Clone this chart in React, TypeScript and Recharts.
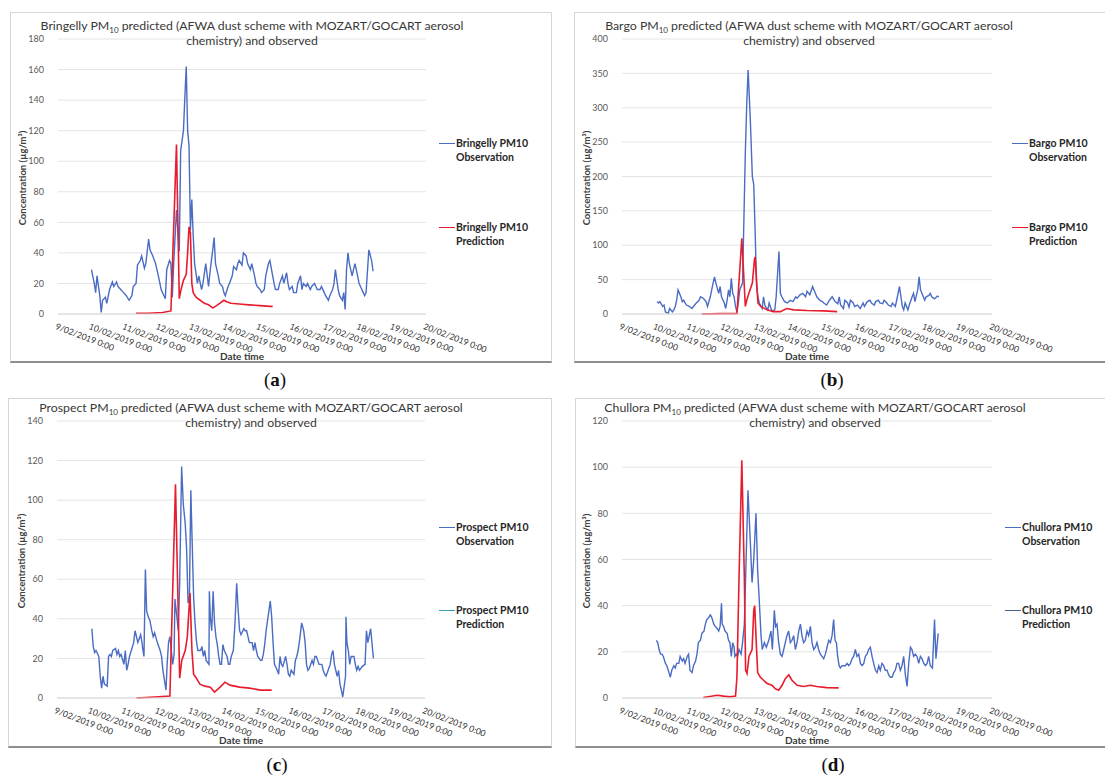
import React from 'react';
import { LineChart, Line, XAxis, YAxis, CartesianGrid } from 'recharts';

// x values are hours since 9/02/2019 0:00
const dayTicks = [0, 24, 48, 72, 96, 120, 144, 168, 192, 216, 240, 264];
const dayLabels = [
  '9/02/2019 0:00', '10/02/2019 0:00', '11/02/2019 0:00', '12/02/2019 0:00',
  '13/02/2019 0:00', '14/02/2019 0:00', '15/02/2019 0:00', '16/02/2019 0:00',
  '17/02/2019 0:00', '18/02/2019 0:00', '19/02/2019 0:00', '20/02/2019 0:00',
];

// [hour, µg/m³]
const bringellyObs = [
  [24, 29], [26, 20], [27, 14], [28, 25], [30, 12], [31, 1], [32, 9], [34, 11], [35, 7], [37, 16],
  [39, 21], [40, 18], [42, 21], [43, 18], [45, 16], [47, 14], [49, 12], [51, 9], [53, 12], [54, 18],
  [56, 20], [57, 32], [59, 35], [60, 38], [62, 30], [63, 33], [65, 49], [66, 42], [68, 38], [70, 33],
  [72, 25], [74, 16], [76, 12], [77, 10], [78, 29], [80, 35], [81, 33], [82, 11], [83, 33], [85, 68],
  [86, 55], [87, 41], [88, 107], [90, 120], [91, 142], [92, 162], [93, 120], [94, 110], [95, 55], [96, 75],
  [97, 51], [98, 33], [100, 20], [101, 25], [103, 16], [104, 20], [106, 33], [108, 18], [109, 27], [111, 42],
  [112, 50], [113, 33], [115, 25], [116, 20], [118, 18], [119, 14], [120, 12], [122, 18], [123, 20], [125, 25],
  [126, 31], [128, 29], [129, 33], [130, 35], [132, 32], [133, 40], [135, 38], [136, 33], [138, 29], [139, 33],
  [141, 25], [142, 20], [143, 18], [145, 16], [146, 14], [148, 16], [149, 25], [151, 33], [152, 35], [154, 25],
  [155, 20], [156, 16], [158, 16], [159, 20], [161, 25], [162, 20], [164, 27], [165, 20], [166, 16], [168, 18],
  [169, 14], [171, 14], [172, 20], [174, 25], [175, 16], [176, 20], [178, 18], [179, 20], [181, 16], [182, 18],
  [184, 20], [185, 18], [186, 16], [188, 16], [189, 18], [191, 14], [192, 12], [194, 9], [195, 12], [197, 16],
  [198, 20], [199, 29], [201, 16], [202, 12], [204, 9], [205, 14], [206, 3], [207, 29], [208, 40], [209, 33],
  [211, 25], [212, 29], [213, 33], [214, 29], [216, 20], [217, 18], [219, 14], [220, 12], [221, 14], [223, 42],
  [225, 35], [226, 28],
];
const bringellyPred = [
  [56, 0.5], [65, 0.5], [75, 1], [81, 2], [85, 111], [87, 10], [88, 15], [90, 22], [92, 26], [93, 40],
  [94, 57], [95, 53], [96, 20], [97, 14], [99, 11], [102, 9], [105, 7], [108, 6], [111, 4], [113, 5],
  [116, 7], [119, 9], [121, 8], [124, 7], [130, 6.5], [137, 6], [145, 5.5], [152, 5], [154, 5],
];

const bargoObs = [
  [25, 18], [26, 16], [27, 18], [29, 11], [30, 13], [31, 3], [33, 1], [34, 8], [36, 3], [37, 6],
  [38, 11], [39, 20], [40, 35], [42, 25], [43, 18], [44, 20], [45, 16], [46, 13], [48, 11], [50, 8],
  [51, 11], [53, 16], [55, 20], [56, 25], [58, 23], [60, 18], [61, 11], [63, 25], [65, 45], [66, 54],
  [67, 45], [69, 30], [70, 40], [71, 25], [73, 16], [74, 8], [75, 20], [76, 35], [77, 25], [78, 52],
  [79, 30], [80, 25], [81, 11], [82, 3], [83, 16], [84, 35], [86, 45], [87, 140], [88, 235], [89, 305],
  [90, 355], [91.5, 285], [93, 200], [94, 188], [95, 120], [96, 40], [97, 25], [98, 16], [99, 12], [100, 8],
  [101, 25], [102, 12], [104, 6], [105, 16], [107, 4], [109, 6], [110, 25], [112, 91], [113, 30], [114, 25],
  [116, 18], [118, 16], [120, 20], [122, 18], [124, 25], [125, 23], [127, 28], [129, 30], [131, 25], [132, 33],
  [134, 28], [136, 40], [137, 35], [139, 25], [141, 20], [143, 18], [144, 16], [146, 13], [148, 20], [150, 25],
  [152, 18], [154, 15], [155, 25], [156, 13], [158, 8], [159, 20], [161, 16], [162, 10], [163, 20], [165, 16],
  [166, 11], [168, 13], [170, 8], [172, 16], [173, 11], [175, 18], [177, 20], [178, 16], [180, 13], [181, 18],
  [183, 20], [184, 16], [186, 15], [187, 20], [189, 16], [190, 13], [192, 11], [193, 16], [195, 11], [196, 20],
  [198, 40], [200, 11], [201, 6], [202, 16], [204, 6], [205, 13], [207, 25], [208, 30], [209, 18], [211, 35],
  [212, 54], [213, 35], [215, 25], [216, 20], [217, 25], [219, 27], [220, 30], [221, 25], [223, 22], [225, 26],
  [226, 25],
];
const bargoPred = [
  [57, 0], [70, 0.5], [82, 0.5], [85.5, 110], [88, 11], [89, 20], [90.5, 30], [93, 45], [94.5, 79], [95, 83],
  [97, 16], [99, 11], [103.5, 6], [108, 3.5], [113, 3.5], [117.5, 8], [122.5, 6], [132, 5], [144, 4.5], [153.5, 3.5],
];

const prospectObs = [
  [25, 35], [26, 26], [27, 23], [28, 24], [30, 21], [31, 11], [32, 5], [33, 11], [34, 7], [36, 6],
  [37, 21], [38, 22], [39, 21], [40, 24], [42, 25], [43, 22], [44, 24], [45, 21], [46, 22], [48, 17],
  [49, 24], [50, 14], [51, 17], [52, 21], [55, 28], [56, 34], [57, 31], [58, 28], [60, 32], [61, 28],
  [61.5, 25], [62.4, 21], [63.4, 65], [64.3, 44], [65.5, 41], [66.7, 39], [68, 34], [69, 31], [70, 33], [72, 28],
  [73, 26], [74, 24], [75, 21], [76, 14], [77.5, 7], [78.2, 4], [79, 17], [80, 28], [81, 31], [82, 24],
  [83, 17], [84, 22], [84.6, 50], [86, 41], [87, 34], [88, 58], [89.4, 117], [90.6, 98], [92, 88], [93, 75],
  [94, 48], [95, 51], [96, 105], [97, 78], [98, 51], [99, 38], [100, 29], [101, 24], [103, 24], [104, 26],
  [105, 21], [106, 24], [107, 19], [109, 17], [109.3, 54], [110, 41], [111, 34], [112, 54], [113, 38], [114, 31],
  [115, 27], [116, 21], [117, 17], [118, 17], [119, 27], [120, 24], [122, 21], [123, 17], [124, 17], [125, 21],
  [126.5, 24], [127.7, 38], [128.9, 58], [130, 44], [131, 34], [132, 32], [134, 35], [135, 34], [136, 34], [137, 31],
  [138, 28], [140, 28], [141, 24], [142, 28], [143, 24], [144, 21], [146, 19], [147, 19], [148, 22], [149, 27],
  [150, 34], [152, 44], [153, 49], [154, 41], [155, 28], [156, 17], [158, 14], [159, 12], [160, 21], [161, 17],
  [162, 16], [164, 21], [165, 17], [166, 12], [167, 11], [168, 14], [170, 12], [171, 19], [172, 21], [173, 24],
  [174, 29], [175.5, 38], [177, 34], [178, 28], [179, 17], [180, 14], [181, 15], [183, 19], [184, 17], [185, 21],
  [186, 21], [188, 17], [190, 17], [191, 14], [192, 12], [193, 11], [195, 15], [196, 17], [197, 22], [198, 24],
  [199, 17], [201, 11], [202, 14], [203, 7], [204, 4], [205, 0.5], [207, 11], [207.3, 41], [208, 28], [209, 24],
  [210, 17], [211, 21], [213, 21], [214, 17], [215, 14], [216, 16], [217, 14], [219, 16], [221, 17], [222, 34],
  [223, 28], [225, 35], [227, 20],
];
const prospectPred = [
  [57, 0], [70, 0.5], [81, 1], [85, 108], [88, 10], [89.5, 19], [92, 24], [93.5, 31], [95.4, 53], [96.8, 24],
  [98, 12], [100, 10], [102.5, 7], [106, 6], [110, 5.5], [113, 3], [117, 5.5], [120.5, 8], [124, 6.5], [131, 5.5],
  [138, 5], [146, 4], [154, 4],
];

const chulloraObs = [
  [24.5, 25], [25.5, 24], [26.5, 21], [27.5, 19], [28.5, 19], [29.5, 18], [31, 15], [32, 14], [33.5, 11], [34.5, 9],
  [35.5, 12], [37, 14], [38, 13], [39, 15], [40.5, 15], [41.5, 18], [43, 16], [44, 17], [45, 15], [46.5, 18],
  [47.5, 19], [48.5, 12], [50, 11], [51, 14], [52.5, 16], [53.5, 19], [54.5, 24], [56, 25], [57, 28], [58.5, 29],
  [59.5, 32], [60.5, 34], [62, 35], [63, 36], [64, 35], [65.5, 32], [66.5, 31], [68, 30], [69, 29], [70, 31],
  [71, 41], [71.5, 32], [72.5, 31], [73.5, 29], [75, 28], [76, 25], [77, 24], [78, 18], [79, 24], [80, 22],
  [80.5, 18], [81.5, 19], [82.5, 18], [83.5, 21], [85, 19], [86, 24], [87.3, 32], [89.9, 90], [91.6, 67], [92.8, 50],
  [94, 60], [95.6, 80], [96.8, 55], [97.8, 44], [99.2, 27], [100.1, 21], [101.6, 24], [103, 22], [104.7, 25], [106.3, 29],
  [107.3, 21], [108.7, 38], [109.6, 31], [110.6, 32], [111.8, 24], [113, 19], [114.2, 18], [115.4, 21], [116.5, 24], [117.7, 27],
  [118.9, 29], [120.1, 24], [121.3, 25], [122.5, 27], [123.7, 21], [124.9, 24], [126.1, 29], [127.3, 32], [128.4, 27], [129.6, 24],
  [130.8, 25], [132, 29], [133.2, 27], [134.4, 31], [135.6, 24], [136.8, 21], [138, 22], [139.1, 24], [140.3, 21], [141.5, 19],
  [142.7, 18], [143.9, 17], [145.1, 19], [146.3, 22], [147.5, 25], [148.7, 24], [149.9, 27], [151, 34], [152, 25], [153, 24],
  [153.9, 18], [154.9, 14], [155.8, 13], [157, 14], [158.2, 14], [159.4, 14], [160.6, 15], [161.8, 14], [163, 15], [164.1, 17],
  [165.3, 18], [166.5, 21], [167.7, 18], [168.9, 19], [170.1, 15], [171.3, 14], [172.5, 15], [173.6, 18], [174.8, 19], [176, 21],
  [177.2, 22], [178.4, 18], [179.6, 15], [180.8, 12], [182, 11], [183.2, 14], [184.3, 12], [185.5, 15], [186.7, 14], [187.9, 12],
  [189.1, 12], [190.3, 10], [191.5, 9], [192.7, 9], [193.9, 11], [195, 12], [196.2, 15], [197.4, 15], [198.6, 12], [199.8, 14],
  [201, 18], [202.2, 10], [203.4, 5], [204.6, 15], [205.8, 22], [206.9, 21], [208.1, 18], [209.3, 19], [210.5, 18], [211.7, 15],
  [212.9, 18], [214.1, 17], [215.3, 15], [216.5, 14], [217.7, 15], [218.8, 18], [220, 14], [221.5, 13], [223, 34], [224, 17],
  [225.6, 28],
];
const chulloraPred = [
  [58, 0.2], [68, 1.2], [72.5, 0.8], [77, 0.5], [81, 0.8], [82, 9], [83.5, 52], [85.5, 103], [87.3, 52], [88.2, 12],
  [89.2, 10.6], [90.6, 18], [92.8, 21], [94, 38], [94.7, 40], [95.8, 24], [96.8, 11], [98.7, 9], [101, 7.7], [103.5, 6.3],
  [107, 5.5], [109.4, 4], [111.8, 3.4], [114.2, 5.5], [116.5, 8.4], [119, 10], [121.3, 7.7], [125, 5.5], [129.6, 5], [134.4, 5.5],
  [139, 5], [146, 4.5], [154.6, 4.4],
];

const bringellyTicks = [0, 20, 40, 60, 80, 100, 120, 140, 160, 180];
const bargoTicks = [0, 50, 100, 150, 200, 250, 300, 350, 400];
const prospectTicks = [0, 20, 40, 60, 80, 100, 120, 140];
const chulloraTicks = [0, 20, 40, 60, 80, 100, 120];

const OBS_COLOR = '#4a6cc3';
const PRED_COLOR = '#e81c2c';
const FONT = 'Lato, "Open Sans", sans-serif';

const toPoints = (pairs: number[][]) => pairs.map(([h, v]) => ({ h, v }));

const DateTick = (props: any) => {
  const { x, y, payload } = props;
  const i = dayTicks.indexOf(payload.value);
  return (
    <g transform={`translate(${x - 1},${y + 9}) rotate(21)`}>
      <text x={0} y={0} dy="0.72em" fontSize={8.6} fill="#333" textAnchor="start" fontFamily={FONT}>
        {dayLabels[i]}
      </text>
    </g>
  );
};

type PanelProps = {
  site: string;
  letter: string;
  obs: number[][];
  pred: number[][];
  yTicks: number[];
  left: number;
  top: number;
  width: number;
  plotL: number;
  plotR: number;
  plotT: number;
  plotB: number;
  frame: { l: number; t: number; r: number; b: number };
  titleX: number;
  legendX: number;
  legendY: number[];
  predLegendColor: string;
  captionX: number;
  captionY: number;
};

const Panel = (p: PanelProps) => {
  const H = 370;
  const xAxisH = 50;
  const yAxisW = 48;
  const margin = {
    top: p.plotT - p.top,
    left: p.plotL - p.left - yAxisW,
    right: p.left + p.width - p.plotR,
    bottom: p.top + H - p.plotB - xAxisH,
  };
  const yMax = p.yTicks[p.yTicks.length - 1];
  const midX = (p.plotL + p.plotR) / 2;
  return (
    <>
      <div
        style={{
          position: 'absolute',
          left: p.frame.l,
          top: p.frame.t,
          width: p.frame.r - p.frame.l,
          height: p.frame.b - p.frame.t,
          border: '1px solid #d6d6d6',
          borderBottom: '2px solid #8e8e8e',
          boxSizing: 'border-box',
          background: '#fff',
        }}
      />
      <div style={{ position: 'absolute', left: p.left, top: p.top }}>
        <LineChart width={p.width} height={H} margin={margin} style={{ fontFamily: FONT }}>
          <CartesianGrid vertical={false} stroke="#e4e4e4" />
          <XAxis
            dataKey="h"
            type="number"
            domain={[0, 264]}
            ticks={dayTicks}
            interval={0}
            height={xAxisH}
            tickLine={false}
            tickSize={0}
            tickMargin={0}
            axisLine={{ stroke: '#d9d9d9' }}
            tick={DateTick}
            allowDataOverflow
          />
          <YAxis
            type="number"
            domain={[0, yMax]}
            ticks={p.yTicks}
            interval={0}
            width={yAxisW}
            tickLine={false}
            axisLine={false}
            tickMargin={8}
            tick={{ fontSize: 9, fill: '#595959', fontFamily: FONT }}
          />
          <Line
            data={toPoints(p.obs)}
            dataKey="v"
            type="linear"
            stroke={OBS_COLOR}
            strokeWidth={1.4}
            dot={false}
            isAnimationActive={false}
          />
          <Line
            data={toPoints(p.pred)}
            dataKey="v"
            type="linear"
            stroke={PRED_COLOR}
            strokeWidth={1.6}
            dot={false}
            isAnimationActive={false}
          />
        </LineChart>
      </div>
      <div
        style={{
          position: 'absolute',
          left: p.titleX - 250,
          width: 500,
          top: p.top + 18,
          textAlign: 'center',
          fontFamily: FONT,
          fontSize: 12.3,
          lineHeight: '15px',
          color: '#383838',
          whiteSpace: 'nowrap',
        }}
      >
        {p.site} PM<sub style={{ fontSize: 8, verticalAlign: 'sub', lineHeight: 0 }}>10</sub> predicted (AFWA dust scheme
        with MOZART/GOCART aerosol
        <br />
        chemistry) and observed
      </div>
      <div
        style={{
          position: 'absolute',
          left: p.plotL - 36,
          top: (p.plotT + p.plotB) / 2 + 1,
          transform: 'translate(-50%, -50%) rotate(-90deg)',
          fontFamily: FONT,
          fontWeight: 700,
          fontSize: 9.5,
          color: '#404040',
          whiteSpace: 'nowrap',
        }}
      >
        Concentration (µg/m³)
      </div>
      <div
        style={{
          position: 'absolute',
          left: midX - 60,
          width: 120,
          top: p.plotB + 36,
          textAlign: 'center',
          fontFamily: FONT,
          fontWeight: 700,
          fontSize: 10,
          color: '#383838',
        }}
      >
        Date time
      </div>
      {[
        { color: OBS_COLOR, kind: 'Observation', y: p.legendY[0] },
        { color: p.predLegendColor, kind: 'Prediction', y: p.legendY[1] },
      ].map((e) => (
        <div
          key={e.kind}
          style={{
            position: 'absolute',
            left: p.legendX,
            top: e.y - 7,
            fontFamily: FONT,
            fontWeight: 700,
            fontSize: 10.5,
            lineHeight: '14px',
            color: '#262626',
            whiteSpace: 'nowrap',
          }}
        >
          <span
            style={{
              position: 'absolute',
              left: -17,
              top: 7,
              width: 16,
              height: 0,
              borderTop: `1.5px solid ${e.color}`,
            }}
          />
          {p.site} PM10
          <br />
          {e.kind}
        </div>
      ))}
      <div
        style={{
          position: 'absolute',
          left: p.captionX - 40,
          width: 80,
          top: p.captionY - 12,
          textAlign: 'center',
          fontFamily: '"Liberation Serif", "DejaVu Serif", serif',
          fontSize: 19,
          color: '#111',
        }}
      >
        (<b>{p.letter}</b>)
      </div>
    </>
  );
};

export default function App() {
  return (
    <div
      style={{
        position: 'absolute',
        left: 0,
        top: 0,
        width: 1105,
        height: 776,
        background: '#fff',
        overflow: 'hidden',
      }}
    >
      <Panel
        site="Bringelly"
        letter="a"
        obs={bringellyObs}
        pred={bringellyPred}
        yTicks={bringellyTicks}
        left={0}
        top={0}
        width={550}
        plotL={58}
        plotR={426}
        plotT={39}
        plotB={314}
        frame={{ l: 10, t: 12, r: 552, b: 363 }}
        titleX={252}
        legendX={456}
        legendY={[143, 227]}
        predLegendColor={PRED_COLOR}
        captionX={275}
        captionY={381}
      />
      <Panel
        site="Bargo"
        letter="b"
        obs={bargoObs}
        pred={bargoPred}
        yTicks={bargoTicks}
        left={565}
        top={0}
        width={540}
        plotL={622}
        plotR={992}
        plotT={39}
        plotB={314}
        frame={{ l: 574, t: 12, r: 1110, b: 363 }}
        titleX={809}
        legendX={1029}
        legendY={[143, 227]}
        predLegendColor={PRED_COLOR}
        captionX={832}
        captionY={381}
      />
      <Panel
        site="Prospect"
        letter="c"
        obs={prospectObs}
        pred={prospectPred}
        yTicks={prospectTicks}
        left={0}
        top={382}
        width={550}
        plotL={57}
        plotR={425}
        plotT={421}
        plotB={698}
        frame={{ l: 8, t: 398, r: 552, b: 748 }}
        titleX={251}
        legendX={456}
        legendY={[527, 610]}
        predLegendColor="#3a9cb0"
        captionX={277}
        captionY={766}
      />
      <Panel
        site="Chullora"
        letter="d"
        obs={chulloraObs}
        pred={chulloraPred}
        yTicks={chulloraTicks}
        left={565}
        top={382}
        width={540}
        plotL={622}
        plotR={992}
        plotT={421}
        plotB={698}
        frame={{ l: 575, t: 398, r: 1110, b: 748 }}
        titleX={815}
        legendX={1022}
        legendY={[527, 610]}
        predLegendColor="#4f5f8f"
        captionX={833}
        captionY={766}
      />
    </div>
  );
}
